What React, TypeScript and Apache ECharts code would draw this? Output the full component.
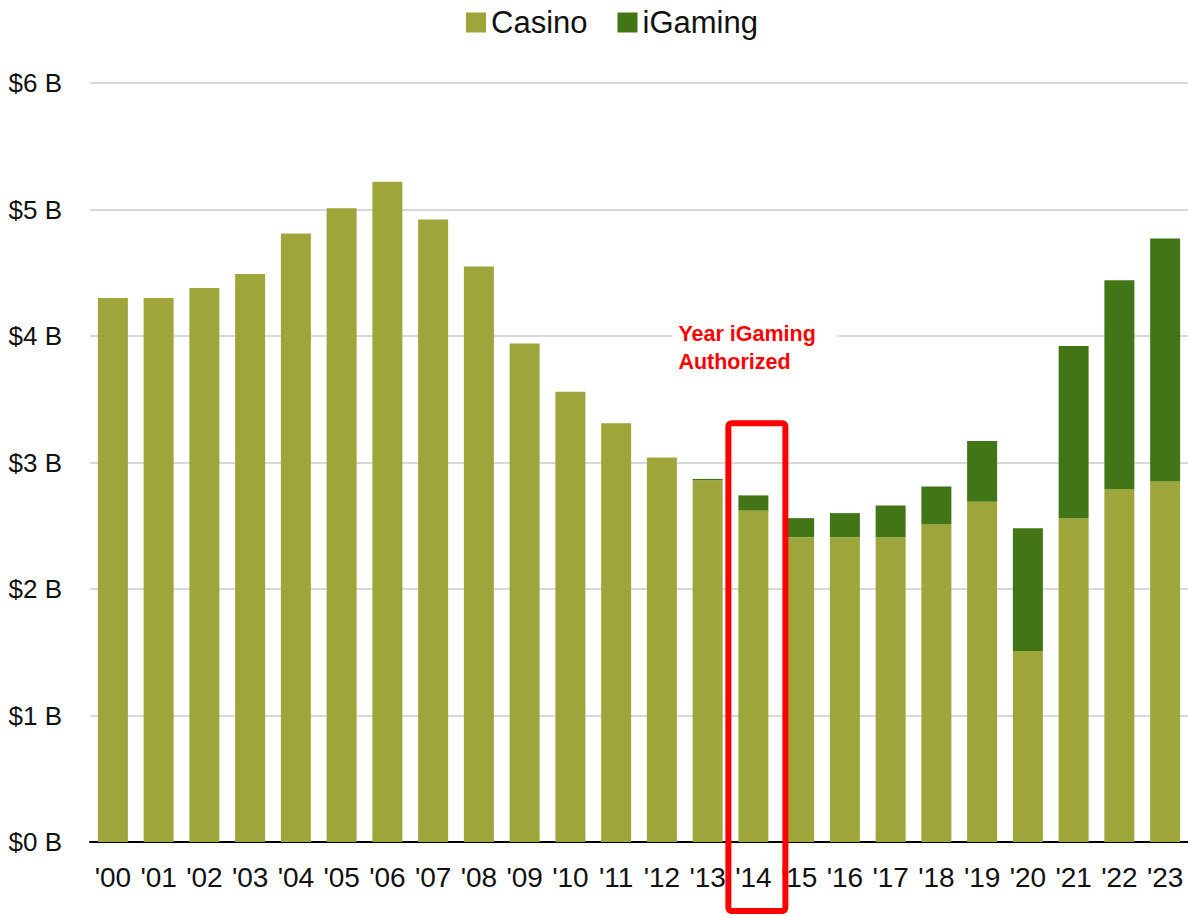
import React, { useEffect, useRef } from "react";
import * as echarts from "echarts";

const categories = ["'00", "'01", "'02", "'03", "'04", "'05", "'06", "'07", "'08", "'09", "'10", "'11", "'12", "'13", "'14", "'15", "'16", "'17", "'18", "'19", "'20", "'21", "'22", "'23"];
const casino = [4.30, 4.30, 4.38, 4.49, 4.81, 5.01, 5.22, 4.92, 4.55, 3.94, 3.56, 3.31, 3.04, 2.86, 2.62, 2.41, 2.41, 2.41, 2.51, 2.69, 1.51, 2.56, 2.79, 2.85];
const igaming = [0, 0, 0, 0, 0, 0, 0, 0, 0, 0, 0, 0, 0, 0.01, 0.12, 0.15, 0.19, 0.25, 0.30, 0.48, 0.97, 1.36, 1.65, 1.92];
const yTicks = [0, 1, 2, 3, 4, 5, 6];
const highlightCategory = "'14";
const annotationLines = ["Year iGaming", "Authorized"];

const FONT = "'Liberation Sans', Arial, sans-serif";

export default function App() {
  const ref = useRef<HTMLDivElement>(null);
  useEffect(() => {
    if (!ref.current) return;
    const chart = echarts.init(ref.current, null, { renderer: "svg" });
    chart.setOption({
      animation: false,
      backgroundColor: "#ffffff",
      textStyle: { fontFamily: FONT },
      legend: {
        left: 461,
        top: 2,
        itemWidth: 20,
        itemHeight: 20,
        itemGap: 30,
        icon: "rect",
        textStyle: { fontSize: 31, color: "#111111", fontFamily: FONT },
        data: ["Casino", "iGaming"],
      },
      grid: { left: 90, width: 1102, top: 83, bottom: 75 },
      xAxis: {
        type: "category",
        data: categories,
        axisLine: { show: true, lineStyle: { color: "#000000", width: 2 } },
        axisTick: { show: false },
        axisLabel: { fontSize: 28, color: "#111111", margin: 21, interval: 0, fontFamily: FONT },
      },
      yAxis: {
        type: "value",
        min: yTicks[0],
        max: yTicks[yTicks.length - 1],
        interval: 1,
        axisLine: { show: false },
        axisTick: { show: false },
        splitLine: { lineStyle: { color: "#d9d9d9", width: 2 } },
        axisLabel: {
          fontSize: 26,
          color: "#111111",
          margin: 28,
          fontFamily: FONT,
          formatter: (v: number) => "$" + v + " B",
        },
      },
      series: [
        {
          name: "Casino",
          type: "bar",
          stack: "total",
          barWidth: 30,
          data: casino,
          itemStyle: { color: "#9ea53b" },
        },
        {
          name: "iGaming",
          type: "bar",
          stack: "total",
          barWidth: 30,
          data: igaming,
          itemStyle: { color: "#427515" },
        },
      ],
    });

    const cx = chart.convertToPixel({ xAxisIndex: 0 }, highlightCategory) as number;
    const boxTop = chart.convertToPixel({ yAxisIndex: 0 }, 3.31) as number;
    const textTop = chart.convertToPixel({ yAxisIndex: 0 }, 4.13) as number;
    chart.setOption({
      graphic: [
        {
          type: "rect",
          z: 100,
          shape: { x: cx - 25, y: boxTop, width: 57, height: 911 - boxTop, r: 3 },
          style: { fill: "none", stroke: "#ff0000", lineWidth: 6 },
        },
        {
          type: "text",
          z: 100,
          x: cx - 81,
          y: textTop,
          style: {
            text: annotationLines.join("\n"),
            fill: "#ff0000",
            font: "bold 21.5px " + FONT,
            lineHeight: 28,
            backgroundColor: "#ffffff",
            padding: [0, 21, 0, 6],
            verticalAlign: "top",
          },
        },
      ],
    });
    return () => chart.dispose();
  }, []);
  return (
    <div
      ref={ref}
      style={{ position: "absolute", left: 0, top: 0, width: 1188, height: 917 }}
    />
  );
}
